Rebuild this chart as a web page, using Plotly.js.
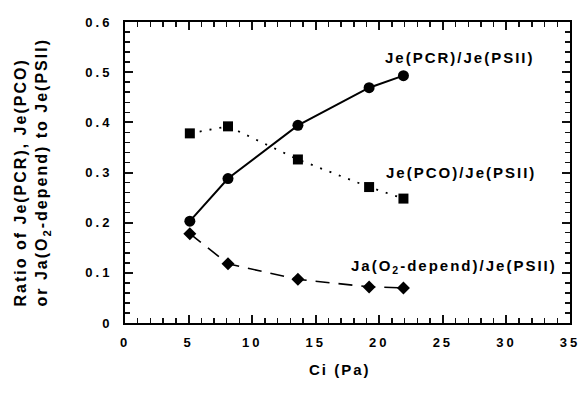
<!DOCTYPE html>
<html>
<head>
<meta charset="utf-8">
<script src="https://cdn.plot.ly/plotly-3.0.1.min.js"></script>
<style>
html,body{margin:0;padding:0;background:#fff;}
#chart{width:580px;height:393px;}
.main-svg text{font-weight:bold !important;}
.annotation-text{letter-spacing:2px;}
.xtick text,.ytick text{letter-spacing:3px;}
</style>
</head>
<body>
<div id="chart"></div>
<script>
// Data
const ci = [5.1, 8.1, 13.6, 19.2, 21.9];
const pcrRatio = [0.203, 0.288, 0.394, 0.469, 0.493];
const pcoRatio = [0.378, 0.392, 0.326, 0.271, 0.248];
const o2Ratio  = [0.178, 0.118, 0.087, 0.072, 0.070];
const seriesLabels = ["Je(PCR)/Je(PSII)", "Je(PCO)/Je(PSII)", "Ja(O<sub>2</sub>-depend)/Je(PSII)"];
const xTitle = "Ci (Pa)";
const yTitle = "Ratio of Je(PCR), Je(PCO)<br>or Ja(O<sub>2</sub>-depend) to Je(PSII)";

const F = "Liberation Sans";
const traces = [
  {x: ci, y: pcrRatio, mode: "lines+markers", line: {color: "#000", width: 2, dash: "solid"},
   marker: {symbol: "circle", size: 11, color: "#000"}},
  {x: ci, y: pcoRatio, mode: "lines+markers", line: {color: "#000", width: 1.8, dash: "2px,8px"},
   marker: {symbol: "square", size: 10, color: "#000"}},
  {x: ci, y: o2Ratio, mode: "lines+markers", line: {color: "#000", width: 1.6, dash: "14px,9px"},
   marker: {symbol: "diamond", size: 10, color: "#000"}}
];

const tickCol = "#111111";
const tfont = {family: F, size: 13, color: "#000", weight: "bold"};
const minorX = {dtick: 1, ticks: "inside", ticklen: 5, tickcolor: tickCol, tickwidth: 1.5};
const minorY = {dtick: 0.02, ticks: "inside", ticklen: 5, tickcolor: tickCol, tickwidth: 1.5};
const afont = {family: F, size: 15, color: "#000", weight: "bold"};

const layout = {
  width: 580, height: 393,
  margin: {l: 125, r: 10, t: 22, b: 70},
  paper_bgcolor: "#fff", plot_bgcolor: "rgba(0,0,0,0)",
  showlegend: false,
  font: {family: F, color: "#000"},
  xaxis: {
    range: [0, 35], dtick: 5, tick0: 0, tickmode: "linear", ticklabelstandoff: 6,
    ticklabeloverflow: "allow",
    showline: true, linecolor: "black", linewidth: 2, mirror: "allticks",
    ticks: "inside", ticklen: 8, tickwidth: 2, tickcolor: tickCol,
    showgrid: false, zeroline: false, tickfont: tfont, minor: minorX
  },
  yaxis: {
    range: [0, 0.6], dtick: 0.1, tick0: 0, tickmode: "linear", ticklabelstandoff: 8,
    ticklabeloverflow: "allow",
    showline: true, linecolor: "black", linewidth: 2, mirror: "allticks",
    ticks: "inside", ticklen: 8, tickwidth: 2, tickcolor: tickCol,
    showgrid: false, zeroline: false, tickfont: tfont, minor: minorY
  },
  annotations: [
    {xref: "x", yref: "y", x: 26.35, y: 0.53, text: seriesLabels[0], showarrow: false, font: afont},
    {xref: "x", yref: "y", x: 26.4, y: 0.30, text: seriesLabels[1], showarrow: false, font: afont},
    {xref: "x", yref: "y", x: 25.85, y: 0.112, text: seriesLabels[2], showarrow: false, font: afont},
    {xref: "paper", yref: "paper", x: 0.483, y: -0.156, xanchor: "center", yanchor: "middle",
     text: xTitle, showarrow: false, font: {family: F, size: 15, color: "#000", weight: "bold"}},
    {xref: "paper", yref: "paper", x: -0.209, y: 0.5, xanchor: "center", yanchor: "middle",
     text: yTitle, showarrow: false, textangle: -90, align: "left",
     font: {family: F, size: 16, color: "#000", weight: "bold"}}
  ]
};

Plotly.newPlot("chart", traces, layout, {displayModeBar: false, staticPlot: true});
</script>
</body>
</html>
